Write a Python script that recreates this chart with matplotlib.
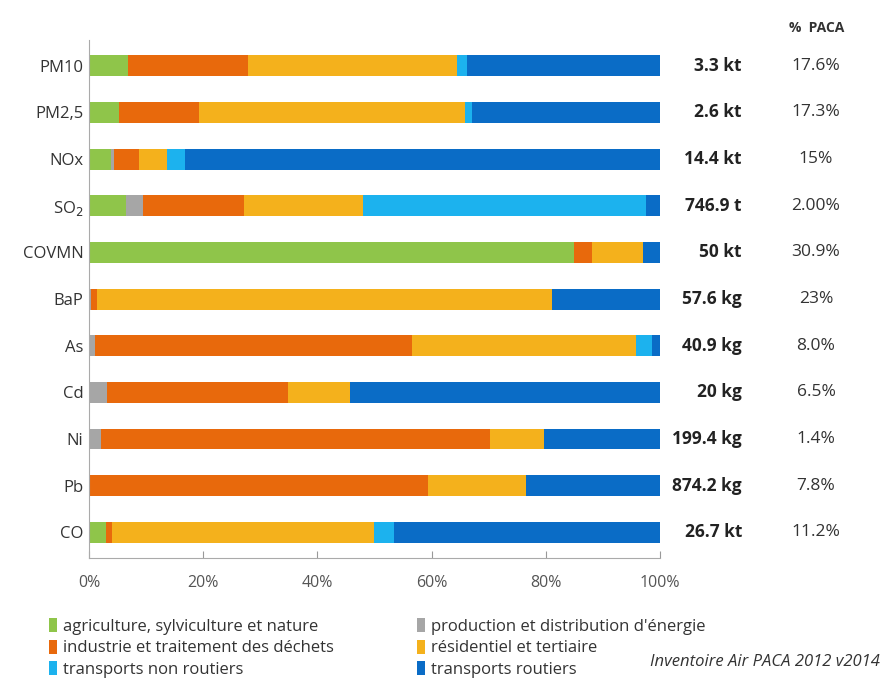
import matplotlib
matplotlib.use("Agg")
import matplotlib.pyplot as plt
import numpy as np
from matplotlib.patches import Patch
from matplotlib.transforms import blended_transform_factory

plt.rcParams['font.family'] = ['Open Sans', 'DejaVu Sans']

categories = ["PM10", "PM2,5", "NOx", "SO$_2$", "COVMN", "BaP", "As", "Cd", "Ni", "Pb", "CO"]
sectors = ["agriculture, sylviculture et nature", "production et distribution d'énergie",
           "industrie et traitement des déchets", "résidentiel et tertiaire",
           "transports non routiers", "transports routiers"]
colors = ["#8fc54a", "#a6a6a6", "#e8690c", "#f4b11c", "#1cb2ee", "#0a6cc6"]

agriculture = [6.8, 5.3, 3.8, 6.5, 84.9, 0.0, 0.0, 0.0, 0.0, 0.0, 3.0]
production = [0.0, 0.0, 0.5, 3.0, 0.0, 0.4, 1.0, 3.1, 2.1, 0.0, 0.0]
industrie = [21.1, 13.9, 4.5, 17.7, 3.2, 1.0, 55.6, 31.7, 68.2, 59.3, 1.1]
residentiel = [36.6, 46.6, 4.9, 20.8, 8.9, 79.6, 39.2, 10.9, 9.4, 17.2, 45.9]
non_routiers = [1.7, 1.3, 3.2, 49.6, 0.0, 0.0, 2.8, 0.0, 0.0, 0.0, 3.5]
routiers = [33.8, 32.9, 83.1, 2.4, 3.0, 19.0, 1.4, 54.3, 20.3, 23.5, 46.5]

totals = ["3.3 kt", "2.6 kt", "14.4 kt", "746.9 t", "50 kt", "57.6 kg", "40.9 kg", "20 kg", "199.4 kg", "874.2 kg", "26.7 kt"]
pct_paca = ["17.6%", "17.3%", "15%", "2.00%", "30.9%", "23%", "8.0%", "6.5%", "1.4%", "7.8%", "11.2%"]

series = [agriculture, production, industrie, residentiel, non_routiers, routiers]

fig = plt.figure(figsize=(8.87, 6.79), dpi=100)
ax = fig.add_axes([89/887, 1-558/679, (660-89)/887, (558-40)/679])

y = np.arange(len(categories))
left = np.zeros(len(categories))
for vals, col, name in zip(series, colors, sectors):
    v = np.array(vals)
    ax.barh(y, v, left=left, height=0.45, color=col, label=name, linewidth=0)
    left += v

ax.set_xlim(0, 100)
ax.set_ylim(10.55, -0.55)
ax.set_yticks(y)
ax.set_yticklabels(categories, fontsize=12, color="#333333")
ax.tick_params(axis='y', length=0, pad=4)
ax.set_xticks([0, 20, 40, 60, 80, 100])
ax.set_xticklabels(["0%", "20%", "40%", "60%", "80%", "100%"], fontsize=11.5, color="#555555")
ax.tick_params(axis='x', direction="in", length=5, color="#999999", pad=12)
for s in ["top", "right"]:
    ax.spines[s].set_visible(False)
for s in ["left", "bottom"]:
    ax.spines[s].set_color("#aaaaaa")

tr = blended_transform_factory(ax.transAxes, ax.transData)
xv = (742-89)/571
xp = (816-89)/571
for i in range(len(categories)):
    ax.text(xv, y[i], totals[i], transform=tr, ha="right", va="center",
            fontsize=12.5, fontweight="bold", color="#222222")
    ax.text(xp, y[i], pct_paca[i], transform=tr, ha="center", va="center",
            fontsize=12.5, color="#333333")
fig.text(817/887, 1-28/679, "%  PACA", ha="center", va="center", fontsize=10,
         fontweight="bold", color="#333333")

col1 = [0, 2, 4]
col2 = [1, 3, 5]
for idxs, x0 in [(col1, 49), (col2, 417)]:
    handles = [Patch(facecolor=colors[k], edgecolor="none") for k in idxs]
    labels = [sectors[k] for k in idxs]
    leg = fig.legend(handles, labels, loc="upper left",
                     bbox_to_anchor=(x0/887, 1-618/679), frameon=False, fontsize=12,
                     handlelength=0.5, handleheight=0.9, handletextpad=0.35,
                     labelspacing=0.3, borderpad=0, borderaxespad=0, labelcolor="#333333")

fig.text(880/887, 1-662/679, "Inventoire Air PACA 2012 v2014", ha="right", va="center",
         fontsize=12, style="italic", color="#333333")

fig.savefig("out.png", dpi=100)
